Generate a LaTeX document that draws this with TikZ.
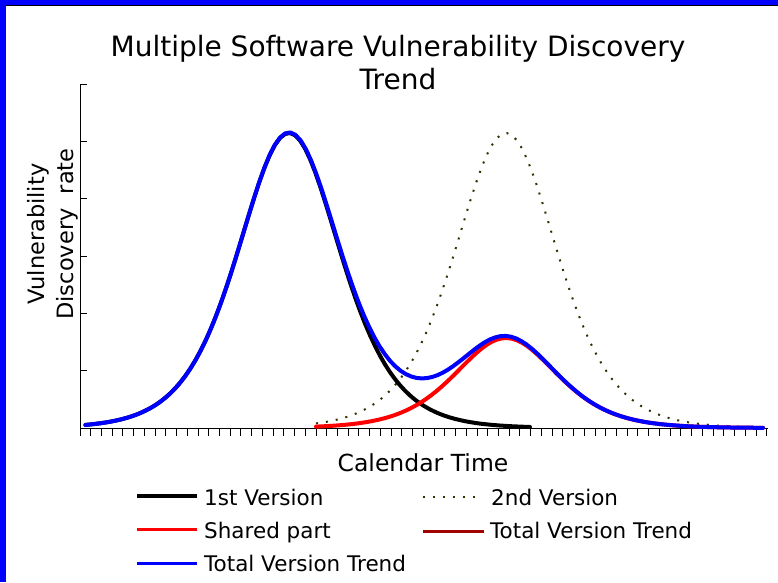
\documentclass[tikz,border=0pt]{standalone}
\usepackage{fontspec}
\setmainfont{DejaVu Sans}
\definecolor{olive}{RGB}{51,51,0}
\definecolor{darkred}{RGB}{160,0,0}
\begin{document}
\begin{tikzpicture}[x=1pt,y=-1pt,
  declare function={fa(\x)=295*(1-tanh((\x-289)/68.5)^2);
                    fb(\x)=295*(1-tanh((\x-506)/68.5)^2);},
  lbl/.style={inner sep=0pt, font=\fontsize{21.5}{25}\selectfont},
  axlbl/.style={inner sep=0pt, font=\fontsize{22.5}{27}\selectfont},
  ttl/.style={inner sep=0pt, font=\fontsize{28}{33}\selectfont},
  curve/.style={line width=4pt, line join=round, line cap=round},
  dotline/.style={draw=olive, line width=2pt, dash pattern=on 2pt off 8pt},
  axis/.style={line width=1pt},
]
\useasboundingbox (0,0) rectangle (778,582);
\fill[white] (0,0) rectangle (778,582);
\fill[blue] (0,0) rectangle (778,5);
\fill[blue] (0,0) rectangle (6,582);
\draw[line width=1pt] (6,5.5) -- (778,5.5);

% title
\node[ttl, anchor=base] (title1) at (398,56) {Multiple Software Vulnerability Discovery};
\node[ttl, anchor=base] (title2) at (398,89) {Trend};

% y label
\node[axlbl, rotate=90, anchor=base] (ylab1) at (44,234) {Vulnerability};
\node[axlbl, rotate=90, anchor=base] (ylab2) at (73,234) {Discovery\ \ rate};

% axes
\coordinate (ytop) at (80,84);
\coordinate (orig) at (80,428);
\coordinate (xend) at (768,428);
\draw[axis] (ytop) -- (orig) -- (xend);
\foreach \k in {0,...,6}
  \draw[axis] (80,84+57.333*\k) -- (87,84+57.333*\k);
\foreach \k in {0,...,64}
  \draw[axis] (80+10.73*\k,428) -- (80+10.73*\k,436);

\node[axlbl, font=\fontsize{23.5}{27}\selectfont, anchor=base] (xlab) at (423,471) {Calendar Time};

% curves
\draw[dotline] plot[domain=316:763, samples=90] (\x,{428-fb(\x)});
\draw[curve, black] plot[domain=85.4:530, samples=90] (\x,{428-fa(\x)});
\draw[curve, red] plot[domain=316:763, samples=90] (\x,{428-0.305*fb(\x)});
\draw[curve, blue] plot[domain=85.4:763, samples=130] (\x,{428-fa(\x)-0.305*fb(\x)});

% legend
\coordinate (la1) at (137,496); \coordinate (lb1) at (197,496);
\draw[black, line width=4pt] (la1) -- (lb1);
\node[lbl, anchor=base west] (lt1) at (204,505) {1st Version};
\coordinate (la2) at (137,529.5); \coordinate (lb2) at (197,529.5);
\draw[red, line width=3pt] (la2) -- (lb2);
\node[lbl, anchor=base west] (lt2) at (204,538) {Shared part};
\coordinate (la3) at (137,563); \coordinate (lb3) at (197,563);
\draw[blue, line width=3pt] (la3) -- (lb3);
\node[lbl, anchor=base west] (lt3) at (204,571) {Total Version Trend};
\coordinate (la4) at (423,497); \coordinate (lb4) at (480,497);
\draw[dotline] (la4) -- (lb4);
\node[lbl, anchor=base west] (lt4) at (491,505) {2nd Version};
\coordinate (la5) at (423,531); \coordinate (lb5) at (484,531);
\draw[darkred, line width=3pt] (la5) -- (lb5);
\node[lbl, anchor=base west] (lt5) at (490,538) {Total Version Trend};
\end{tikzpicture}
\end{document}
